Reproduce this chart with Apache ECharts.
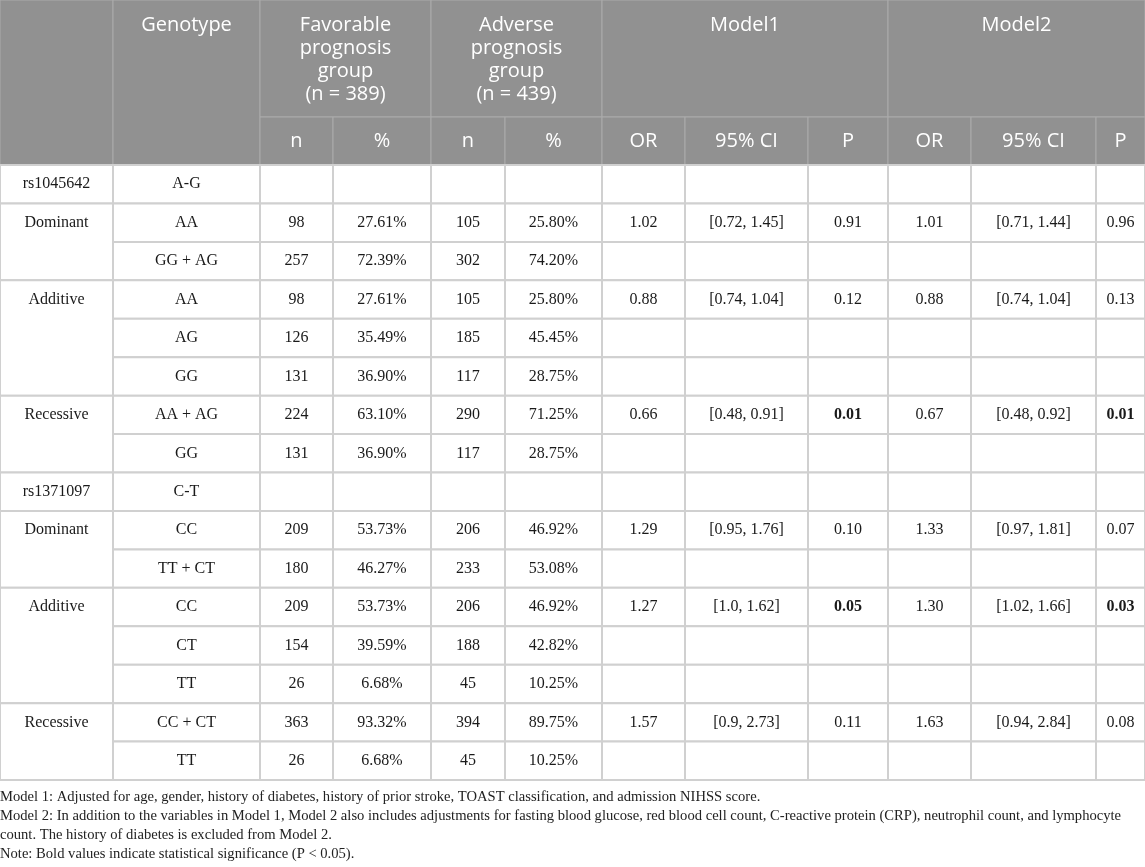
<!DOCTYPE html>
<html>
<head>
<meta charset="utf-8">
<script src="https://cdn.jsdelivr.net/npm/echarts@6/dist/echarts.min.js"></script>
<style>
html,body{margin:0;padding:0;background:#fff;}
#chart{width:1145px;height:867px;}
</style>
</head>
<body>
<div id="chart"></div>
<script>
// ---------- DATA ----------
const groupHeaders = ['Favorable\nprognosis\ngroup\n(n = 389)', 'Adverse\nprognosis\ngroup\n(n = 439)', 'Model1', 'Model2'];
const subHeaders = ['n', '%', 'n', '%', 'OR', '95% CI', 'P', 'OR', '95% CI', 'P'];
const rowLabels = ['rs1045642', 'Dominant', '', 'Additive', '', '', 'Recessive', '', 'rs1371097', 'Dominant', '', 'Additive', '', '', 'Recessive', ''];
const labelSpan = [1, 2, 0, 3, 0, 0, 2, 0, 1, 2, 0, 3, 0, 0, 2, 0];
const genotypes = ['A-G', 'AA', 'GG + AG', 'AA', 'AG', 'GG', 'AA + AG', 'GG', 'C-T', 'CC', 'TT + CT', 'CC', 'CT', 'TT', 'CC + CT', 'TT'];
const favN = [null, 98, 257, 98, 126, 131, 224, 131, null, 209, 180, 209, 154, 26, 363, 26];
const favPct = ['', '27.61%', '72.39%', '27.61%', '35.49%', '36.90%', '63.10%', '36.90%', '', '53.73%', '46.27%', '53.73%', '39.59%', '6.68%', '93.32%', '6.68%'];
const advN = [null, 105, 302, 105, 185, 117, 290, 117, null, 206, 233, 206, 188, 45, 394, 45];
const advPct = ['', '25.80%', '74.20%', '25.80%', '45.45%', '28.75%', '71.25%', '28.75%', '', '46.92%', '53.08%', '46.92%', '42.82%', '10.25%', '89.75%', '10.25%'];
const m1OR = ['', '1.02', '', '0.88', '', '', '0.66', '', '', '1.29', '', '1.27', '', '', '1.57', ''];
const m1CI = ['', '[0.72, 1.45]', '', '[0.74, 1.04]', '', '', '[0.48, 0.91]', '', '', '[0.95, 1.76]', '', '[1.0, 1.62]', '', '', '[0.9, 2.73]', ''];
const m1P = ['', '0.91', '', '0.12', '', '', '0.01', '', '', '0.10', '', '0.05', '', '', '0.11', ''];
const m2OR = ['', '1.01', '', '0.88', '', '', '0.67', '', '', '1.33', '', '1.30', '', '', '1.63', ''];
const m2CI = ['', '[0.71, 1.44]', '', '[0.74, 1.04]', '', '', '[0.48, 0.92]', '', '', '[0.97, 1.81]', '', '[1.02, 1.66]', '', '', '[0.94, 2.84]', ''];
const m2P = ['', '0.96', '', '0.13', '', '', '0.01', '', '', '0.07', '', '0.03', '', '', '0.08', ''];
const m1Bold = [false, false, false, false, false, false, true, false, false, false, false, true, false, false, false, false];
const m2Bold = [false, false, false, false, false, false, true, false, false, false, false, true, false, false, false, false];
const footnotes = [
  'Model 1: Adjusted for age, gender, history of diabetes, history of prior stroke, TOAST classification, and admission NIHSS score.',
  'Model 2: In addition to the variables in Model 1, Model 2 also includes adjustments for fasting blood glucose, red blood cell count, C-reactive protein (CRP), neutrophil count, and lymphocyte',
  'count. The history of diabetes is excluded from Model 2.',
  'Note: Bold values indicate statistical significance (P < 0.05).'
];

// ---------- LAYOUT ----------
const colEdges = [0, 113, 260, 333, 431, 505, 602, 685, 808, 888, 971, 1096, 1145];
const headRow1 = 117, headRow2 = 165, rowH = 38.44;
const tableW = 1145, tableH = headRow2 + rowH * genotypes.length;

const HEAD_BG = '#919191', HEAD_LINE = '#ababab', BODY_LINE = '#d0d0d0';
const HEAD_FONT = '"Open Sans", "Noto Sans", sans-serif';
const BODY_FONT = '"Liberation Serif", "Times New Roman", serif';

// ---------- BUILD CELLS ----------
const cells = [];
function addCell(c0, c1, y0, y1, text, kind, opts) {
  cells.push(Object.assign({value: [colEdges[c0], y0, colEdges[c1], y1], text: text == null ? '' : String(text), kind: kind}, opts || {}));
}
// header
addCell(0, 1, 0, headRow2, '', 'head');
addCell(1, 2, 0, headRow2, 'Genotype', 'headTop');
addCell(2, 4, 0, headRow1, groupHeaders[0], 'headTop');
addCell(4, 6, 0, headRow1, groupHeaders[1], 'headTop');
addCell(6, 9, 0, headRow1, groupHeaders[2], 'headTop');
addCell(9, 12, 0, headRow1, groupHeaders[3], 'headTop');
subHeaders.forEach((s, i) => addCell(i + 2, i + 3, headRow1, headRow2, s, 'headMid'));
// body
const bodyCols = [favN, favPct, advN, advPct, m1OR, m1CI, m1P, m2OR, m2CI, m2P];
genotypes.forEach((g, r) => {
  const y0 = headRow2 + r * rowH, y1 = y0 + rowH;
  if (labelSpan[r] > 0) {
    addCell(0, 1, y0, headRow2 + (r + labelSpan[r]) * rowH, rowLabels[r], 'bodyTop', {rowH: rowH});
  }
  addCell(1, 2, y0, y1, g, 'body');
  bodyCols.forEach((arr, ci) => {
    let bold = (ci === 6 && m1Bold[r]) || (ci === 9 && m2Bold[r]);
    addCell(ci + 2, ci + 3, y0, y1, arr[r], 'body', {bold: bold});
  });
});

function renderItem(params, api) {
  const cell = cells[params.dataIndex];
  const p0 = api.coord([api.value(0), api.value(1)]);
  const p1 = api.coord([api.value(2), api.value(3)]);
  const x = p0[0], y = p0[1], w = p1[0] - p0[0], h = p1[1] - p0[1];
  const isHead = cell.kind.indexOf('head') === 0;
  const children = [{
    type: 'rect',
    shape: {x: x, y: y, width: w, height: h},
    style: {fill: isHead ? HEAD_BG : '#ffffff', stroke: isHead ? HEAD_LINE : BODY_LINE, lineWidth: isHead ? 1 : 2}
  }];
  if (cell.text) {
    let ty, va = 'middle';
    if (cell.kind === 'headTop') { ty = y + 14; va = 'top'; }
    else if (cell.kind === 'bodyTop') { const ph = api.size([0, cell.rowH])[1]; ty = y + ph / 2; }
    else { ty = y + h / 2; }
    children.push({
      type: 'text',
      style: {
        text: cell.text,
        x: x + w / 2, y: ty,
        align: 'center', verticalAlign: va,
        fill: isHead ? '#ffffff' : '#1a1a1a',
        font: isHead ? ('20px ' + HEAD_FONT) : ((cell.bold ? 'bold ' : '') + '16px ' + BODY_FONT),
        lineHeight: 22.8
      }
    });
  }
  return {type: 'group', children: children};
}

const chart = echarts.init(document.getElementById('chart'), null, {renderer: 'canvas'});
chart.setOption({
  animation: false,
  backgroundColor: '#ffffff',
  title: {
    text: footnotes.join('\n'),
    left: 0, top: 788,
    padding: 0,
    textStyle: {fontFamily: BODY_FONT, fontSize: 14.6, fontWeight: 'normal', color: '#222222', lineHeight: 18.8}
  },
  grid: {left: 0, right: 0, top: 0, height: tableH, containLabel: false},
  xAxis: {type: 'value', min: 0, max: tableW, show: false},
  yAxis: {type: 'value', min: 0, max: tableH, inverse: true, show: false},
  series: [{
    type: 'custom',
    renderItem: renderItem,
    encode: {x: [0, 2], y: [1, 3]},
    clip: false,
    silent: true,
    data: cells.map(c => c.value)
  }]
});
</script>
</body>
</html>
